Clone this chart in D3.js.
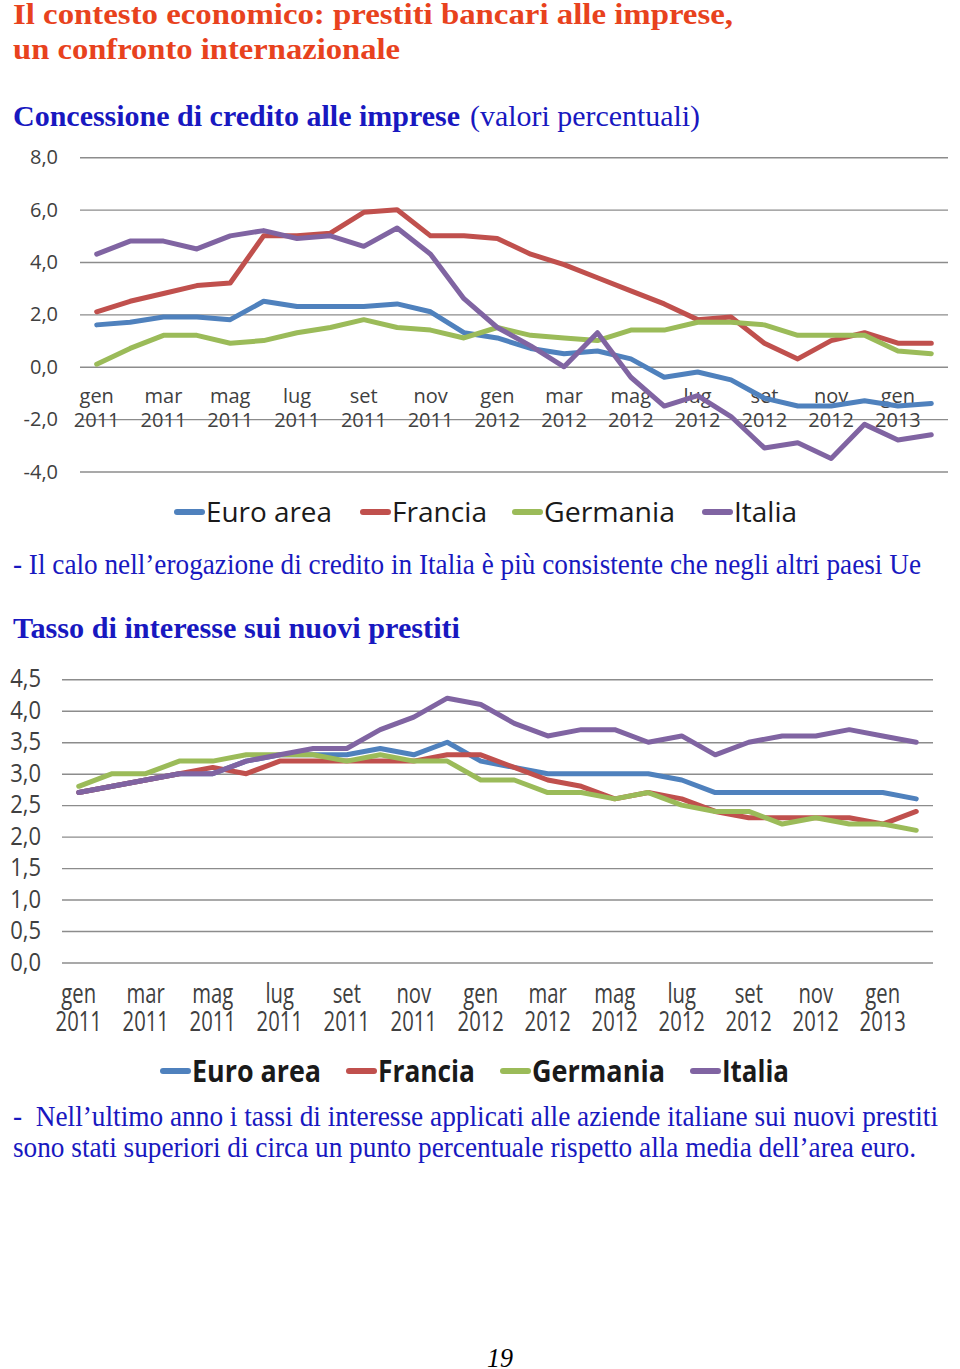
<!DOCTYPE html>
<html><head><meta charset="utf-8">
<script src="https://cdn.jsdelivr.net/npm/d3@7"></script>
<style>body{margin:0;background:#fff} svg{display:block} text{white-space:pre}</style>
</head><body>
<svg id="c" width="960" height="1369"></svg>
<script>
// ---------- DATA ----------
const categories = ["gen 2011","feb 2011","mar 2011","apr 2011","mag 2011","giu 2011","lug 2011","ago 2011","set 2011","ott 2011","nov 2011","dic 2011",
  "gen 2012","feb 2012","mar 2012","apr 2012","mag 2012","giu 2012","lug 2012","ago 2012","set 2012","ott 2012","nov 2012","dic 2012",
  "gen 2013","feb 2013"];
const seriesNames = ["Euro area","Francia","Germania","Italia"];
const seriesColors = ["#4F81BD","#C0504D","#9BBB59","#8064A2"];

// Concessione di credito alle imprese (valori percentuali)
const creditEuro     = [1.6,1.7,1.9,1.9,1.8,2.5,2.3,2.3,2.3,2.4,2.1,1.3,1.1,0.7,0.5,0.6,0.3,-0.4,-0.2,-0.5,-1.2,-1.5,-1.5,-1.3,-1.5,-1.4];
const creditFrancia  = [2.1,2.5,2.8,3.1,3.2,5.0,5.0,5.1,5.9,6.0,5.0,5.0,4.9,4.3,3.9,3.4,2.9,2.4,1.8,1.9,0.9,0.3,1.0,1.3,0.9,0.9];
const creditGermania = [0.1,0.7,1.2,1.2,0.9,1.0,1.3,1.5,1.8,1.5,1.4,1.1,1.5,1.2,1.1,1.0,1.4,1.4,1.7,1.7,1.6,1.2,1.2,1.2,0.6,0.5];
const creditItalia   = [4.3,4.8,4.8,4.5,5.0,5.2,4.9,5.0,4.6,5.3,4.3,2.6,1.5,0.8,0.0,1.3,-0.4,-1.5,-1.1,-1.9,-3.1,-2.9,-3.5,-2.2,-2.8,-2.6];
const creditTicks = [-4,-2,0,2,4,6,8];

// Tasso di interesse sui nuovi prestiti
const rateEuro     = [2.7,2.8,2.9,3.0,3.0,3.2,3.3,3.3,3.3,3.4,3.3,3.5,3.2,3.1,3.0,3.0,3.0,3.0,2.9,2.7,2.7,2.7,2.7,2.7,2.7,2.6];
const rateFrancia  = [2.7,2.8,2.9,3.0,3.1,3.0,3.2,3.2,3.2,3.2,3.2,3.3,3.3,3.1,2.9,2.8,2.6,2.7,2.6,2.4,2.3,2.3,2.3,2.3,2.2,2.4];
const rateGermania = [2.8,3.0,3.0,3.2,3.2,3.3,3.3,3.3,3.2,3.3,3.2,3.2,2.9,2.9,2.7,2.7,2.6,2.7,2.5,2.4,2.4,2.2,2.3,2.2,2.2,2.1];
const rateItalia   = [2.7,2.8,2.9,3.0,3.0,3.2,3.3,3.4,3.4,3.7,3.9,4.2,4.1,3.8,3.6,3.7,3.7,3.5,3.6,3.3,3.5,3.6,3.6,3.7,3.6,3.5];
const rateTicks = [0,0.5,1,1.5,2,2.5,3,3.5,4,4.5];

// ---------- DRAW ----------
const svg = d3.select("#c");
const fmt = v => d3.format(".1f")(v).replace(".", ",").replace("−","-");
const SERIF = "'Liberation Serif','Times New Roman',serif";
const SANS = "'Open Sans','Noto Sans',sans-serif";
const RED = "#e8421d", BLUE = "#1818c0";

function txt(x, y, s, opts) {
  const t = svg.append("text").attr("x", x).attr("y", y).text(s)
    .attr("font-family", opts.family || SERIF)
    .attr("font-size", opts.size)
    .attr("font-weight", opts.weight || "normal")
    .attr("font-style", opts.style || "normal")
    .attr("fill", opts.fill || "#000");
  if (opts.len) t.attr("textLength", opts.len).attr("lengthAdjust", "spacingAndGlyphs");
  return t;
}

// Headings / texts
txt(13, 24, "Il contesto economico: prestiti bancari alle imprese,", {size: 30, weight: "bold", fill: RED, len: 720});
txt(13, 59, "un confronto internazionale", {size: 30, weight: "bold", fill: RED, len: 387});
txt(13, 126, "Concessione di credito alle imprese", {size: 30, weight: "bold", fill: BLUE, len: 447});
txt(470, 126, "(valori percentuali)", {size: 30, fill: BLUE, len: 230});
txt(13, 574, "- Il calo nell’erogazione di credito in Italia è più consistente che negli altri paesi Ue", {size: 29, fill: BLUE, len: 908});
txt(13, 638, "Tasso di interesse sui nuovi prestiti", {size: 30, weight: "bold", fill: BLUE, len: 447});
txt(13, 1126, "-  Nell’ultimo anno i tassi di interesse applicati alle aziende italiane sui nuovi prestiti", {size: 29, fill: BLUE, len: 925});
txt(13, 1157, "sono stati superiori di circa un punto percentuale rispetto alla media dell’area euro.", {size: 29, fill: BLUE, len: 903});
txt(487, 1367, "19", {size: 27, style: "italic", fill: "#000", len: 26});

function drawChart(cfg) {
  const g = svg.append("g");
  const x = d3.scalePoint().domain(categories).range(cfg.xRange).padding(0.5);
  const y = d3.scaleLinear().domain(cfg.yDomain).range(cfg.yRange);

  // gridlines
  const grid = g.append("g").attr("transform", `translate(${cfg.xRange[0]},0)`)
    .call(d3.axisLeft(y).tickValues(cfg.ticks).tickSize(-(cfg.xRange[1]-cfg.xRange[0])).tickFormat(""));
  grid.select(".domain").remove();
  grid.selectAll("line").attr("stroke", "#8c8c8c").attr("stroke-width", 1.4);

  // y labels
  g.append("g").selectAll("text").data(cfg.ticks).join("text")
    .attr("transform", d => `translate(${cfg.yLabelX},${y(d) + cfg.yLabelDy}) scale(${cfg.yLabelSx},1)`)
    .attr("text-anchor", "end")
    .attr("font-family", SANS).attr("font-size", cfg.yLabelSize).attr("fill", "#404040")
    .text(d => fmt(d));

  // x labels (every second month)
  const shown = categories.filter((c, i) => i % 2 === 0);
  const xl = g.append("g").selectAll("g").data(shown).join("g")
    .attr("transform", d => `translate(${x(d)},0)`);
  xl.append("text")
    .attr("transform", `translate(0,${cfg.xLabelY1}) scale(${cfg.xLabelSx},1)`)
    .attr("text-anchor", "middle").attr("font-family", SANS).attr("font-size", cfg.xLabelSize).attr("fill", "#404040")
    .text(d => d.split(" ")[0]);
  xl.append("text")
    .attr("transform", `translate(0,${cfg.xLabelY2}) scale(${cfg.xLabelSx},1)`)
    .attr("text-anchor", "middle").attr("font-family", SANS).attr("font-size", cfg.xLabelSize).attr("fill", "#404040")
    .text(d => d.split(" ")[1]);

  // lines
  const line = d3.line().x((d, i) => x(categories[i])).y(d => y(d));
  cfg.series.forEach((s, k) => {
    g.append("path").attr("d", line(s)).attr("fill", "none")
      .attr("stroke", seriesColors[k]).attr("stroke-width", cfg.lineWidth)
      .attr("stroke-linejoin", "round").attr("stroke-linecap", "round");
  });

  // legend
  seriesNames.forEach((name, k) => {
    const x0 = cfg.legendX[k];
    g.append("line").attr("x1", x0 + 3).attr("x2", x0 + 28).attr("y1", cfg.legendY).attr("y2", cfg.legendY)
      .attr("stroke", seriesColors[k]).attr("stroke-width", 6).attr("stroke-linecap", "round");
    g.append("text").attr("x", x0 + 32).attr("y", cfg.legendY + cfg.legendDy)
      .attr("font-family", SANS).attr("font-size", cfg.legendSize).attr("font-weight", cfg.legendWeight)
      .attr("fill", "#1a1a1a")
      .attr("textLength", cfg.legendLen[k]).attr("lengthAdjust", "spacingAndGlyphs")
      .text(name);
  });
}

drawChart({
  series: [creditEuro, creditFrancia, creditGermania, creditItalia],
  xRange: [80, 948], yDomain: [-4, 8], yRange: [471.5, 157.3], ticks: creditTicks,
  yLabelX: 58, yLabelDy: 7, yLabelSx: 1, yLabelSize: 20,
  xLabelY1: 403, xLabelY2: 427, xLabelSx: 1, xLabelSize: 20,
  lineWidth: 5,
  legendX: [174, 360, 512, 702], legendY: 512, legendDy: 10, legendSize: 28, legendWeight: "normal",
  legendLen: [126, 95, 131, 63]
});

drawChart({
  series: [rateEuro, rateFrancia, rateGermania, rateItalia],
  xRange: [62, 933], yDomain: [0, 4.5], yRange: [962.5, 679.3], ticks: rateTicks,
  yLabelX: 41, yLabelDy: 8, yLabelSx: 0.88, yLabelSize: 25,
  xLabelY1: 1003, xLabelY2: 1031, xLabelSx: 0.75, xLabelSize: 27,
  lineWidth: 5,
  legendX: [160, 346, 500, 690], legendY: 1071, legendDy: 11, legendSize: 30, legendWeight: "bold",
  legendLen: [129, 97, 133, 67]
});
</script>
</body></html>
